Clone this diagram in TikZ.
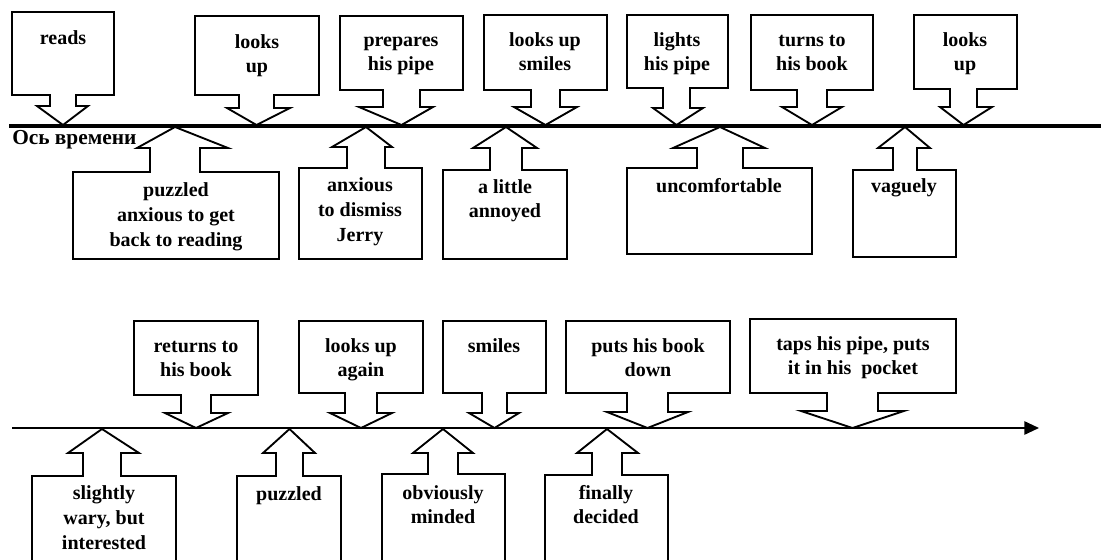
\documentclass[tikz,border=0pt]{standalone}
\usepackage{fontspec}
\setmainfont{Liberation Serif}
\usetikzlibrary{arrows.meta}
\newcommand\dcall[9]{% down-pointing callout: L T R B sl sr wy wl wr ; tip at (\tipy)
  \draw[callout] (#1,#2) -- (#3,#2) -- (#3,#4) -- (#6,#4) -- (#6,#7) -- (#9,#7)
    -- ({(#5+#6)/2},\tipy) -- (#8,#7) -- (#5,#7) -- (#5,#4) -- (#1,#4) -- cycle;}
\newcommand\ucall[9]{% up-pointing callout: L T R B sl sr wy wl wr
  \draw[callout] (#1,#4) -- (#1,#2) -- (#5,#2) -- (#5,#7) -- (#8,#7)
    -- ({(#5+#6)/2},\tipy) -- (#9,#7) -- (#6,#7) -- (#6,#2) -- (#3,#2) -- (#3,#4) -- cycle;}
\begin{document}
\begin{tikzpicture}[x=0.75pt,y=-0.75pt,
  callout/.style={draw=black,line width=1.4pt,line join=miter},
  lbl/.style={anchor=base,align=center,inner sep=0pt,
    font=\fontsize{15}{18.5}\selectfont\bfseries},
  axisA/.style={line width=2.6pt},
  axisB/.style={line width=1.3pt,-{Triangle[length=11pt,width=10pt]}}]
\useasboundingbox (0,0) rectangle (1101,560);
\clip (0,0) rectangle (1101,560);
% ---------- first time axis ----------
\coordinate (a1s) at (9,126);
\coordinate (a1e) at (1101,126);
\draw[axisA] (a1s) -- (a1e);
\node[anchor=base west,inner sep=0pt,font=\fontsize{16}{18}\selectfont\bfseries] (axlabel) at (12,145) {Ось времени};
\def\tipy{125}
\dcall{12}{12}{114}{95}{50}{76}{106}{37}{88}
\dcall{195}{16}{319}{95}{239}{274}{108}{227}{290}
\dcall{340}{16}{463}{90}{383}{420}{107}{359}{433}
\dcall{484}{15}{607}{90}{531}{560}{107}{514}{577}
\dcall{627}{15}{728}{88}{663}{690}{108}{653}{703}
\dcall{751}{15}{873}{90}{797}{827}{107}{782}{842}
\dcall{914}{15}{1017}{89}{950}{977}{107}{940}{992}
% anchor=base is the baseline of the last line
\node[lbl] (t1) at (63,45) {reads};
\node[lbl] (t2) at (257,72.7) {looks\\up};
\node[lbl] (t3) at (401,70.7) {prepares\\his pipe};
\node[lbl] (t4) at (545,70.7) {looks up\\smiles};
\node[lbl] (t5) at (677,70.7) {lights\\his pipe};
\node[lbl] (t6) at (812,70.7) {turns to\\his book};
\node[lbl] (t7) at (965,70.7) {looks\\up};
\def\tipy{127}
\ucall{73}{172}{279}{259}{150}{200}{148}{137}{228}
\ucall{299}{168}{422}{259}{347}{385}{147}{332}{392}
\ucall{443}{170}{567}{259}{490}{522}{148}{473}{537}
\ucall{627}{168}{812}{254}{697}{743}{148}{673}{765}
\ucall{853}{170}{956}{257}{893}{917}{148}{878}{930}
\node[lbl] (b1) at (176,246.3) {puzzled\\anxious to get\\back to reading};
\node[lbl] (b2) at (360,241.3) {anxious\\to dismiss\\Jerry};
\node[lbl] (b3) at (505,217.7) {a little\\annoyed};
\node[lbl] (b4) at (719,192) {uncomfortable};
\node[lbl] (b5) at (904,192) {vaguely};
% ---------- second time axis ----------
\coordinate (a2s) at (12,428);
\coordinate (a2e) at (1039,428);
\draw[axisB] (a2s) -- (a2e);
\def\tipy{428}
\dcall{134}{321}{258}{395}{181}{211}{413}{165}{228}
\dcall{299}{321}{423}{393}{345}{377}{413}{330}{392}
\dcall{443}{321}{546}{393}{482}{507}{413}{469}{519}
\dcall{566}{321}{730}{393}{627}{668}{412}{607}{688}
\dcall{750}{319}{956}{393}{827}{878}{411}{801}{904}
\node[lbl] (u1) at (196,376.7) {returns to\\his book};
\node[lbl] (u2) at (361,376.7) {looks up\\again};
\node[lbl] (u3) at (494,352) {smiles};
\node[lbl] (u4) at (648,376.7) {puts his book\\down};
\node[lbl] (u5) at (853,374.7) {taps his pipe, puts\\it in his~ pocket};
\def\tipy{429}
\ucall{32}{476}{176}{575}{83}{121}{453}{68}{139}
\ucall{237}{476}{341}{575}{276}{303}{453}{263}{315}
\ucall{382}{474}{505}{575}{428}{458}{453}{413}{473}
\ucall{545}{475}{668}{575}{592}{622}{453}{577}{638}
\node[lbl] (l1) at (104,549.3) {slightly\\wary, but\\interested};
\node[lbl] (l2) at (289,500) {puzzled};
\node[lbl] (l3) at (443,523.7) {obviously\\minded};
\node[lbl] (l4) at (606,523.7) {finally\\decided};
\end{tikzpicture}
\end{document}
